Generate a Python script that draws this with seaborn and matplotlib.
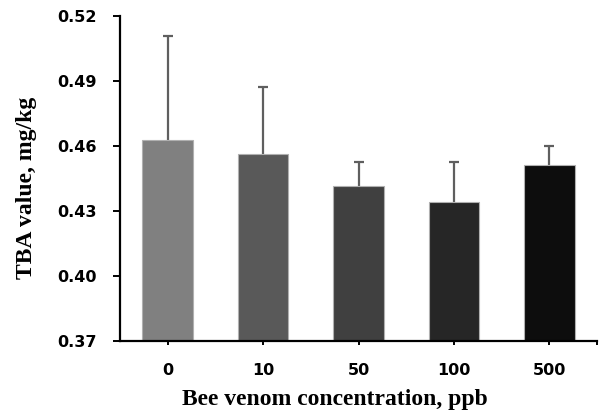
import matplotlib
matplotlib.use("Agg")
import matplotlib.pyplot as plt
import seaborn as sns
import pandas as pd
import numpy as np

concentrations = ["0", "10", "50", "100", "500"]
tba_means = [0.4627, 0.4563, 0.4416, 0.4342, 0.4512]
tba_err = [0.0479, 0.0307, 0.0107, 0.0181, 0.0085]
bar_colors = ["#808080", "#595959", "#404040", "#262626", "#0d0d0d"]
y_ticks = [0.37, 0.40, 0.43, 0.46, 0.49, 0.52]
y_tick_labels = ["0.37", "0.40", "0.43", "0.46", "0.49", "0.52"]

df = pd.DataFrame({"conc": concentrations, "tba": tba_means})

sns.set_style("white")
fig = plt.figure(figsize=(5.99, 4.15), dpi=100)
ax = fig.add_axes([120 / 599, 1 - 340.5 / 415, 477 / 599, 324.5 / 415])

sns.barplot(data=df, x="conc", y="tba", hue="conc", palette=bar_colors,
            legend=False, width=0.53, errorbar=None, ax=ax,
            edgecolor="#b0b0b0", linewidth=0.8, zorder=2)

xpos = list(range(len(concentrations)))
eb = ax.errorbar(xpos, tba_means, yerr=[[0] * len(tba_err), tba_err], fmt="none",
                 ecolor="#5f5f5f", elinewidth=1.6, capsize=3.5, capthick=1.6, zorder=1)
# hide the lower caps (lower error is zero)
for cl in eb[1]:
    yd = np.asarray(cl.get_ydata(), dtype=float)
    if np.allclose(yd, tba_means):
        cl.set_visible(False)

ax.set_ylim(0.37, 0.52)
ax.set_xlim(-0.5, 4.5)
ax.set_yticks(y_ticks)
ax.set_yticklabels(y_tick_labels)

for s in ["top", "right"]:
    ax.spines[s].set_visible(False)
for s in ["left", "bottom"]:
    ax.spines[s].set_color("black")
    ax.spines[s].set_linewidth(1.6)

ax.tick_params(axis="y", direction="out", length=5, width=1.4, color="black",
               pad=11.5, labelsize=11.5, left=True)
ax.tick_params(axis="x", direction="out", length=3, width=1.4, color="black",
               pad=13.5, labelsize=11.5, bottom=True)
ax.set_xticks([4.5], minor=True)
ax.tick_params(axis="x", which="minor", direction="out", length=3, width=1.4, color="black", bottom=True)
for lab in ax.get_xticklabels() + ax.get_yticklabels():
    lab.set_fontweight("bold")
    lab.set_fontfamily("DejaVu Sans")
    lab.set_color("black")

ax.set_xlabel("Bee venom concentration, ppb", fontsize=17, fontweight="bold",
              family="Liberation Serif", color="black")
ax.set_ylabel("TBA value, mg/kg", fontsize=17, fontweight="bold",
              family="Liberation Serif", color="black")
ax.xaxis.set_label_coords(0.451, -0.183)
ax.xaxis.label.set_va("center")
ax.yaxis.set_label_coords(-0.195, 0.47)
ax.yaxis.label.set_va("center")

fig.savefig("out.png", dpi=100)
